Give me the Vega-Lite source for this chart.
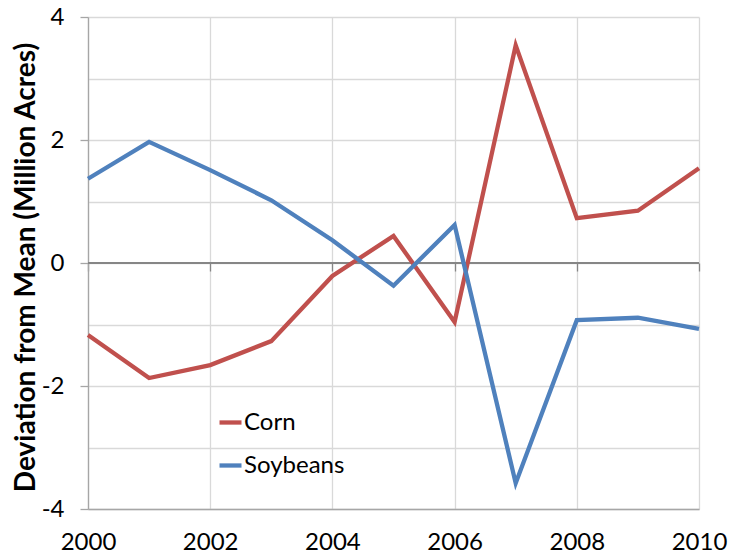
{
  "$schema": "https://vega.github.io/schema/vega-lite/v6.json",
  "width": 611,
  "height": 492,
  "autosize": {"type": "none"},
  "padding": {"left": 88, "top": 17, "right": 31, "bottom": 49},
  "background": "white",
  "config": {
    "view": {"stroke": null},
    "font": "Lato",
    "axis": {"labelFont": "Lato", "titleFont": "Lato", "labelColor": "black", "titleColor": "black"}
  },
  "data": {"values": [
    {"year": 2000, "crop": "Corn", "value": -1.17},
    {"year": 2001, "crop": "Corn", "value": -1.87},
    {"year": 2002, "crop": "Corn", "value": -1.66},
    {"year": 2003, "crop": "Corn", "value": -1.27},
    {"year": 2004, "crop": "Corn", "value": -0.21},
    {"year": 2005, "crop": "Corn", "value": 0.44},
    {"year": 2006, "crop": "Corn", "value": -0.96},
    {"year": 2007, "crop": "Corn", "value": 3.54},
    {"year": 2008, "crop": "Corn", "value": 0.73},
    {"year": 2009, "crop": "Corn", "value": 0.85},
    {"year": 2010, "crop": "Corn", "value": 1.54},
    {"year": 2000, "crop": "Soybeans", "value": 1.37},
    {"year": 2001, "crop": "Soybeans", "value": 1.97},
    {"year": 2002, "crop": "Soybeans", "value": 1.51},
    {"year": 2003, "crop": "Soybeans", "value": 1.02},
    {"year": 2004, "crop": "Soybeans", "value": 0.37},
    {"year": 2005, "crop": "Soybeans", "value": -0.37},
    {"year": 2006, "crop": "Soybeans", "value": 0.62},
    {"year": 2007, "crop": "Soybeans", "value": -3.58},
    {"year": 2008, "crop": "Soybeans", "value": -0.93},
    {"year": 2009, "crop": "Soybeans", "value": -0.89},
    {"year": 2010, "crop": "Soybeans", "value": -1.07}
  ]},
  "resolve": {"axis": {"x": "independent"}},
  "layer": [
    {
      "mark": {"type": "rule", "color": "#868686", "strokeWidth": 1.3},
      "encoding": {
        "x": {"datum": 2000, "type": "quantitative", "scale": {"domain": [2000, 2010], "nice": false, "zero": false},
          "axis": {"orient": "bottom", "offset": -246, "values": [2000, 2002, 2004, 2006, 2008, 2010], "labels": false, "grid": false, "domain": false, "ticks": true, "tickSize": 8, "tickColor": "#868686", "tickWidth": 1.3, "title": null}},
        "x2": {"datum": 2010},
        "y": {"datum": 0, "type": "quantitative"}
      }
    },
    {
      "mark": {"type": "line", "strokeWidth": 4.3, "strokeJoin": "miter", "strokeCap": "butt"},
      "encoding": {
        "x": {"field": "year", "type": "quantitative", "scale": {"domain": [2000, 2010], "nice": false, "zero": false},
          "axis": {"orient": "bottom", "values": [2000, 2002, 2004, 2006, 2008, 2010], "format": "d", "grid": true, "gridColor": "#d9d9d9", "gridWidth": 1.3, "ticks": false, "domain": true, "domainColor": "#a6a6a6", "domainWidth": 1.3, "labelFontSize": 24, "labelPadding": 21, "labelFlush": false, "labelOverlap": false, "title": null}},
        "y": {"field": "value", "type": "quantitative", "scale": {"domain": [-4, 4], "nice": false},
          "axis": {"values": [-4, -3, -2, -1, 0, 1, 2, 3, 4], "labelExpr": "datum.value % 2 == 0 ? '' + datum.value : ''", "grid": true, "gridColor": "#d9d9d9", "gridWidth": 1.3, "domainColor": "#a6a6a6", "domainWidth": 1.3, "tickColor": "#a6a6a6", "tickWidth": 1.3, "tickSize": {"condition": {"test": "datum.value % 2 != 0", "value": 0}, "value": 8}, "labelFontSize": 24, "labelPadding": 16, "title": "Deviation from Mean (Million Acres)", "titleFontSize": 28, "titleFontWeight": "bold", "titleX": -54, "titleY": 250, "titleBaseline": "alphabetic", "titleAngle": 270}},
        "color": {"field": "crop", "type": "nominal",
          "scale": {"domain": ["Corn", "Soybeans"], "range": ["#C0504D", "#4F81BD"]},
          "legend": {"title": null, "orient": "none", "legendX": 129, "legendY": 392, "symbolType": "stroke", "symbolSize": 484, "symbolStrokeWidth": 4.3, "labelFontSize": 24, "labelFont": "Lato", "labelColor": "black", "rowPadding": 17, "labelOffset": 0}}
      }
    }
  ]
}
